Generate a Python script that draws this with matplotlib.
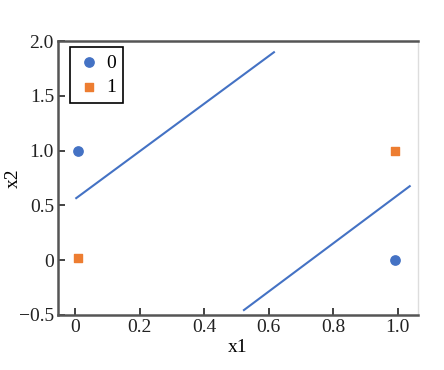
import matplotlib.pyplot as plt

plt.rcParams['font.family'] = ['Liberation Serif', 'DejaVu Serif']
plt.rcParams['font.size'] = 14

# XOR-style sample points
class0_x = [0.01, 0.99]
class0_y = [1.0, 0.0]
class1_x = [0.01, 0.99]
class1_y = [0.02, 1.0]

# two decision boundary lines
line1_x = [0.003, 0.616]
line1_y = [0.566, 1.898]
line2_x = [0.523, 1.037]
line2_y = [-0.456, 0.675]

xticks = [0, 0.2, 0.4, 0.6, 0.8, 1.0]
xlabels = ['0', '0.2', '0.4', '0.6', '0.8', '1.0']
yticks = [-0.5, 0, 0.5, 1.0, 1.5, 2.0]
ylabels = ['\u22120.5', '0', '0.5', '1.0', '1.5', '2.0']

fig = plt.figure(figsize=(4.44, 3.7), dpi=100)
ax = fig.add_axes([0.131, 0.149, 0.81, 0.74])

blue = '#4472C4'
orange = '#ED7D31'

ax.plot(line1_x, line1_y, color=blue, linewidth=1.5)
ax.plot(line2_x, line2_y, color=blue, linewidth=1.5)
ax.scatter(class0_x, class0_y, color=blue, marker='o', s=45, label='0', zorder=3)
ax.scatter(class1_x, class1_y, color=orange, marker='s', s=40, label='1', zorder=3)

ax.set_xlim(-0.053, 1.062)
ax.set_ylim(-0.5, 2.0)
ax.set_xticks(xticks)
ax.set_xticklabels(xlabels)
ax.set_yticks(yticks)
ax.set_yticklabels(ylabels)
ax.tick_params(direction='in', length=5, width=1.2, colors='#222222', pad=3)
ax.set_xlabel('x1', labelpad=2)
ax.set_ylabel('x2', labelpad=-2)

for side in ['left', 'bottom', 'top']:
    ax.spines[side].set_color('#555555')
    ax.spines[side].set_linewidth(1.8)
ax.spines['right'].set_color('#dddddd')
ax.spines['right'].set_linewidth(1.0)

leg = ax.legend(loc='upper left', fancybox=False, edgecolor='black',
                framealpha=1, handletextpad=0.3, handlelength=1.2,
                borderpad=0.35, labelspacing=0.35, borderaxespad=0,
                bbox_to_anchor=(0.033, 0.978))
leg.get_frame().set_linewidth(1.2)

fig.savefig('out.png', dpi=100)
